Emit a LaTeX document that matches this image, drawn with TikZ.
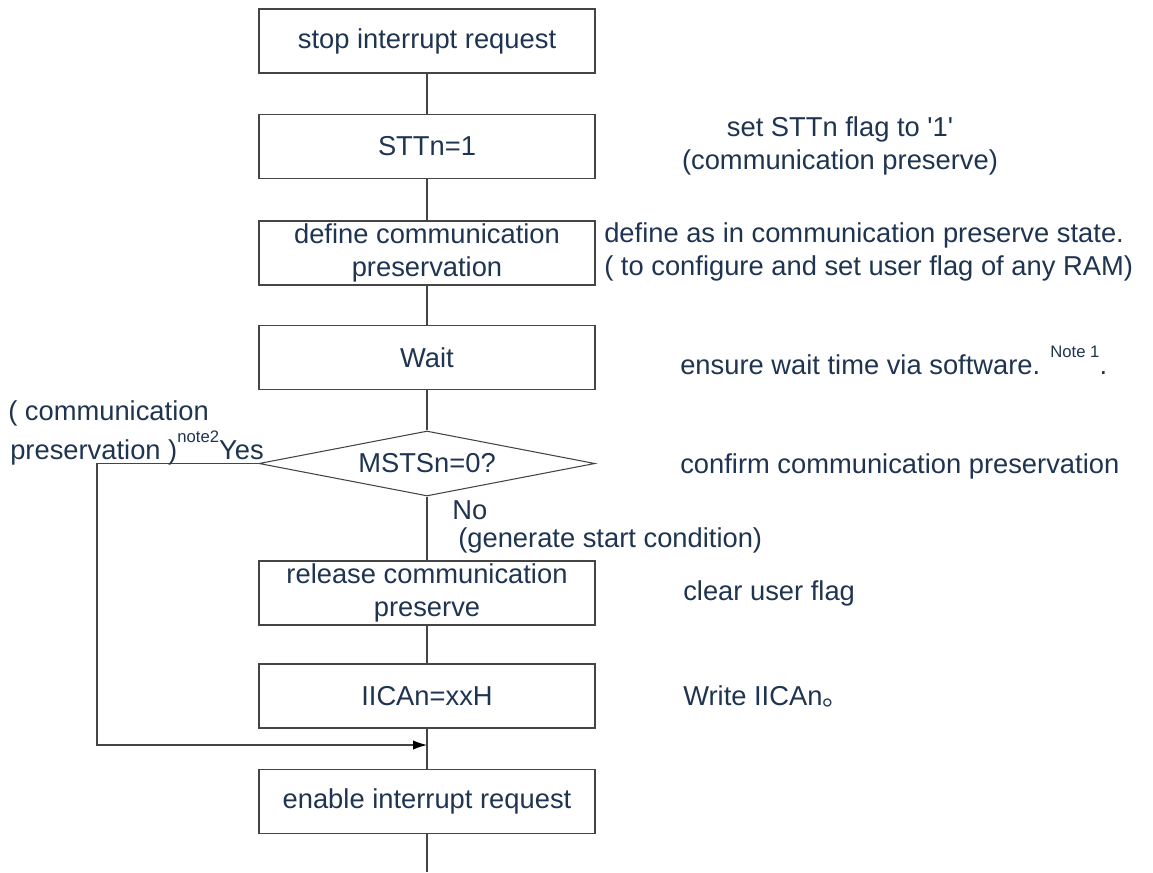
\documentclass[tikz,border=0pt]{standalone}
\usepackage{fontspec}
\newfontfamily\arial{Liberation Sans}
\newfontfamily\cjkfont{Noto Sans CJK SC}
\usetikzlibrary{shapes.geometric,arrows.meta}
\definecolor{txt}{HTML}{1E3450}
\definecolor{ln}{HTML}{454545}
\newcommand{\supnote}[1]{\raisebox{0.62em}{\fontsize{12.5}{12.5}\selectfont #1}}
\begin{document}
\begin{tikzpicture}[x=0.75pt,y=-0.75pt,
  font=\arial\fontsize{20.5}{24.75}\selectfont,
  stepbox/.style={draw=ln, line width=0.8pt, rectangle, minimum width=252pt,
    minimum height=48pt, inner sep=0pt, align=center, text=txt},
  decbox/.style={draw=ln, line width=0.8pt, diamond, aspect=5.17,
    minimum width=252pt, minimum height=48.75pt, inner sep=0pt, text=txt},
  conn/.style={draw=ln, line width=0.8pt},
  lbl/.style={text=txt, inner sep=0pt, align=left}]
\useasboundingbox (0,0) rectangle (1153,872);

\node[stepbox] (b1) at (427,41) {stop interrupt request};
\node[stepbox] (b2) at (427,146.5) {STTn=1};
\node[stepbox] (b3) at (427,253) {define communication\\preservation};
\node[stepbox] (b4) at (427,357.5) {Wait};
\node[decbox] (dec) at (427,463.5) {MSTSn=0?};
\node[stepbox] (b5) at (427,593) {release communication\\preserve};
\node[stepbox] (b6) at (427,696) {IICAn=xxH};
\node[stepbox] (b7) at (427,801.5) {enable interrupt request};
\coordinate (endp) at (427,872);
\coordinate (yl) at (97,463.5);
\coordinate (merge) at (427,745);

\draw[conn] (b1) -- (b2);
\draw[conn] (b2) -- (b3);
\draw[conn] (b3) -- (b4);
\draw[conn] (b4) -- (dec);
\draw[conn] (dec) -- (b5);
\draw[conn] (b5) -- (b6);
\draw[conn] (b6) -- (b7);
\draw[conn] (b7) -- (endp);
\draw[conn, -{Latex[length=10.5pt,width=7pt,fill=black,color=black]}] (dec.west) -- (yl) |- (merge);

% right-hand notes
\node[lbl, align=center] (n2) at (840,146) {set STTn flag to '1'\\(communication preserve)};
\node[lbl, anchor=west] (n3) at (604,252) {define as in communication preserve state.\\( to configure and set user flag of any RAM)};
\node[lbl, anchor=west] (n4) at (680,360) {ensure wait time via software. \supnote{Note 1}.};
\node[lbl, anchor=west] (n5) at (680,466) {confirm communication preservation};
\node[lbl, anchor=west] (n6) at (683,593) {clear user flag};
\node[lbl, anchor=west] (n7) at (683,696) {Write IICAn{\cjkfont 。}};

% branch labels
\node[lbl, anchor=west] (y1) at (8,413) {( communication};
\node[lbl, anchor=west] (y2) at (10,448) {preservation )\supnote{note2}Yes};
\node[lbl, anchor=west] (no1) at (452,510) {No};
\node[lbl, anchor=west] (no2) at (458,540) {(generate start condition)};
\end{tikzpicture}
\end{document}
